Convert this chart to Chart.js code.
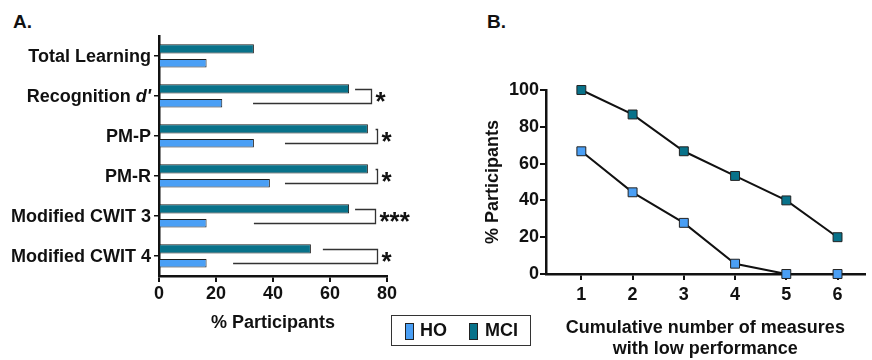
<!DOCTYPE html>
<html>
<head>
<meta charset="utf-8">
<script src="https://cdn.jsdelivr.net/npm/chart.js@4/dist/chart.umd.min.js"></script>
<style>
  body { margin: 0; background: #fff; width: 872px; height: 360px; position: relative; overflow: hidden;
         font-family: "Liberation Sans", Arial, sans-serif; font-weight: bold; color: #111; }
  #wrapA { position: absolute; left: 0; top: 0; width: 440px; height: 360px; }
  #wrapB { position: absolute; left: 440px; top: 0; width: 432px; height: 360px; }
  .panel { position: absolute; font-size: 19px; }
  #legend { position: absolute; left: 391px; top: 315px; width: 138px; height: 29px;
            border: 1.5px solid #333; font-size: 18px; }
  .sw { position: absolute; top: 7px; width: 7px; height: 15px; border: 1px solid #222; }
  .lt { position: absolute; top: 4px; }
</style>
</head>
<body>
<div class="panel" style="left:13px; top:11px;">A.</div>
<div class="panel" style="left:487px; top:11px;">B.</div>
<div id="wrapA"><canvas id="graficoA"></canvas></div>
<div id="wrapB"><canvas id="graficoB"></canvas></div>
<div id="legend">
  <div class="sw" style="left:13px; background:#4a9ff5;"></div><div class="lt" style="left:28px;">HO</div>
  <div class="sw" style="left:77px; background:#08728a;"></div><div class="lt" style="left:93px;">MCI</div>
</div>
<script>
// Painel A: % de participantes com baixo desempenho por medida
const medidas = ["Total Learning", "Recognition d'", "PM-P", "PM-R", "Modified CWIT 3", "Modified CWIT 4"];
const mciA = [33.3, 66.7, 73.3, 73.3, 66.7, 53.3];
const hoA = [16.7, 22.2, 33.3, 38.9, 16.7, 16.7];
const ticksA = [0, 20, 40, 60, 80];

// Colchetes de significância (índice da medida, início da linha MCI, início da linha HO, lado direito, texto)
const sigIndex = [1, 2, 3, 4, 5];
const sigTopStart = [68.8, 76, 76, 68.8, 57.5];
const sigBottomStart = [33, 44.2, 44.2, 33.3, 26];
const sigRight = [74.4, 76.5, 76.5, 75.8, 76.5];
const sigText = ["*", "*", "*", "***", "*"];

// Painel B: número cumulativo de medidas com baixo desempenho
const medidasCumulativas = [1, 2, 3, 4, 5, 6];
const mciB = [100, 86.7, 66.7, 53.3, 40, 20];
const hoB = [66.7, 44.4, 27.8, 5.6, 0, 0];
const ticksB = [0, 20, 40, 60, 80, 100];

const corHO = "#4a9ff5";
const corMCI = "#08728a";
const fonte = "'Liberation Sans', Arial, sans-serif";

Chart.defaults.font.family = fonte;
Chart.defaults.color = "#111";

// Rótulos do eixo Y (com d' em itálico) e colchetes
const pluginA = {
  id: "rotulosColchetes",
  afterDraw(chart) {
    const c = chart.ctx;
    const sy = chart.scales.y;
    const sx = chart.scales.x;
    c.save();
    c.fillStyle = "#111";
    c.textBaseline = "middle";
    medidas.forEach((m, i) => {
      const y = sy.getPixelForValue(i) + 1;
      const xr = sy.right - 8;
      if (m.endsWith("d'")) {
        const base = m.slice(0, -2);
        c.font = "italic bold 18px " + fonte;
        const w2 = c.measureText("d'").width;
        c.textAlign = "right";
        c.fillText("d'", xr, y);
        c.font = "bold 18px " + fonte;
        c.fillText(base, xr - w2, y);
      } else {
        c.font = "bold 18px " + fonte;
        c.textAlign = "right";
        c.fillText(m, xr, y);
      }
    });

    const metaMCI = chart.getDatasetMeta(0);
    const metaHO = chart.getDatasetMeta(1);
    c.strokeStyle = "#333";
    c.lineWidth = 1.3;
    sigIndex.forEach((idx, k) => {
      const y1 = Math.round(metaMCI.data[idx].y) + 0.5;
      const y2 = Math.round(metaHO.data[idx].y) + 0.5;
      const xr = Math.round(sx.getPixelForValue(sigRight[k])) + 0.5;
      c.beginPath();
      c.moveTo(sx.getPixelForValue(sigTopStart[k]), y1);
      c.lineTo(xr, y1);
      c.lineTo(xr, y2);
      c.lineTo(sx.getPixelForValue(sigBottomStart[k]), y2);
      c.stroke();
      c.font = "bold 26px " + fonte;
      c.textAlign = "left";
      c.textBaseline = "middle";
      c.fillText(sigText[k], xr + 4, (y1 + y2) / 2 + 6);
    });
    c.restore();
  }
};

new Chart(document.getElementById("graficoA"), {
  type: "bar",
  data: {
    labels: medidas,
    datasets: [
      { label: "MCI", data: mciA, backgroundColor: corMCI, borderColor: "#1c1c1c", borderWidth: 1,
        barPercentage: 0.64, categoryPercentage: 0.72 },
      { label: "HO", data: hoA, backgroundColor: corHO, borderColor: "#1c1c1c", borderWidth: 1,
        barPercentage: 0.58, categoryPercentage: 0.72 }
    ]
  },
  options: {
    indexAxis: "y",
    responsive: true,
    maintainAspectRatio: false,
    animation: false,
    layout: { padding: { top: 36, right: 53, left: 0, bottom: 0 } },
    plugins: { legend: { display: false }, tooltip: { enabled: false } },
    scales: {
      x: {
        min: 0,
        max: 80,
        afterBuildTicks: (s) => { s.ticks = ticksA.map(v => ({ value: v })); },
        afterFit: (s) => { s.height = 84; },
        ticks: { font: { size: 18, weight: "bold" }, color: "#111", padding: 1, maxRotation: 0 },
        grid: { drawOnChartArea: false, drawTicks: true, tickLength: 6, color: "#111", lineWidth: 2 },
        border: { color: "#111", width: 2.5 },
        title: { display: true, text: "% Participants", font: { size: 18, weight: "bold" },
                 color: "#111", padding: { bottom: 26 } }
      },
      y: {
        afterFit: (s) => { s.width = 159; },
        ticks: { display: false },
        grid: { drawOnChartArea: false, drawTicks: true, tickLength: 5, offset: false, color: "#111", lineWidth: 1.5 },
        border: { color: "#111", width: 2.5 }
      }
    }
  },
  plugins: [pluginA]
});

new Chart(document.getElementById("graficoB"), {
  type: "line",
  data: {
    datasets: [
      { label: "MCI", data: medidasCumulativas.map((x, i) => ({ x: x, y: mciB[i] })),
        borderColor: "#111", borderWidth: 2, pointStyle: "rect", pointRadius: 6.3,
        pointBackgroundColor: corMCI, pointBorderColor: "#222", pointBorderWidth: 1, clip: false },
      { label: "HO", data: medidasCumulativas.map((x, i) => ({ x: x, y: hoB[i] })),
        borderColor: "#111", borderWidth: 2, pointStyle: "rect", pointRadius: 6.3,
        pointBackgroundColor: corHO, pointBorderColor: "#222", pointBorderWidth: 1, clip: false }
    ]
  },
  options: {
    responsive: true,
    maintainAspectRatio: false,
    animation: false,
    layout: { padding: { top: 90, right: 0, left: 0, bottom: 0 } },
    plugins: { legend: { display: false }, tooltip: { enabled: false } },
    scales: {
      x: {
        type: "linear",
        min: 0.31,
        max: 6.53,
        afterBuildTicks: (s) => { s.ticks = medidasCumulativas.map(v => ({ value: v })); },
        afterFit: (s) => { s.height = 86; },
        ticks: { font: { size: 18, weight: "bold" }, color: "#111", padding: 4, maxRotation: 0 },
        grid: { drawOnChartArea: false, drawTicks: true, tickLength: 6, color: "#111", lineWidth: 2 },
        border: { color: "#111", width: 2.5 },
        title: { display: true, text: ["Cumulative number of measures", "with low performance"],
                 font: { size: 18, weight: "bold" }, color: "#111", padding: { bottom: 0 } }
      },
      y: {
        min: 0,
        max: 100,
        afterBuildTicks: (s) => { s.ticks = ticksB.map(v => ({ value: v })); },
        afterFit: (s) => { s.width = 106; },
        ticks: { font: { size: 18, weight: "bold" }, color: "#111", padding: 1 },
        grid: { drawOnChartArea: false, drawTicks: true, tickLength: 6, color: "#111", lineWidth: 2 },
        border: { color: "#111", width: 2.5 },
        title: { display: true, text: "% Participants", font: { size: 18, weight: "bold" },
                 color: "#111", padding: { top: 42 } }
      }
    }
  }
});
</script>
</body>
</html>
